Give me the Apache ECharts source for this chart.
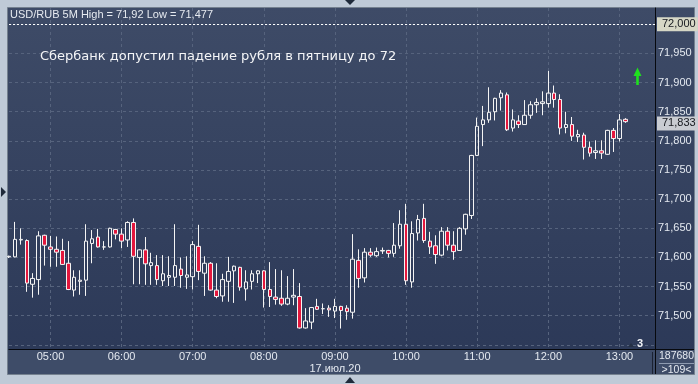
<!DOCTYPE html>
<html>
<head>
<meta charset="utf-8">
<script src="https://cdn.jsdelivr.net/npm/echarts@6/dist/echarts.min.js"></script>
<style>
html,body{margin:0;padding:0;background:#bfcad7;}
#c{width:698px;height:384px;}
</style>
</head>
<body>
<div id="c"></div>
<script>
// ---- data (USD/RUB 5M, 17.07.2020) ----
const startTime = '04:25';
const endSlot = '13:30';
const hourLabels = ['05:00','06:00','07:00','08:00','09:00','10:00','11:00','12:00','13:00'];
const dateLabelAt = '09:00';
const dateLabel = '17.июл.20';
const yTickLabels = ['71,500','71,550','71,600','71,650','71,700','71,750','71,800','71,850','71,900','71,950','72,000'];
const headerText = 'USD/RUB 5M High = 71,92 Low = 71,477';
const titleText = 'Сбербанк допустил падение рубля в пятницу до 72';
const highLevel = 72.000;
const lastPrice = 71.833;
const volumeText = '187680';
const countText = '>109<';
const markerText = '3';

const open = [71.601,71.601,71.630,71.629,71.554,71.562,71.638,71.618,71.614,71.612,
71.590,71.544,71.559,71.561,71.624,71.635,71.618,71.618,71.648,71.640,
71.630,71.660,71.600,71.613,71.586,71.586,71.560,71.566,71.566,71.580,
71.566,71.567,71.619,71.573,71.590,71.544,71.534,71.559,71.577,71.583,
71.546,71.559,71.572,71.577,71.545,71.532,71.530,71.520,71.532,71.533,
71.479,71.489,71.516,71.512,71.513,71.508,71.516,71.513,71.506,71.595,
71.565,71.609,71.603,71.611,71.612,71.607,71.620,71.657,71.558,71.642,
71.667,71.628,71.620,71.604,71.645,71.621,71.612,71.649,71.672,71.775,
71.828,71.836,71.850,71.874,71.879,71.822,71.834,71.828,71.844,71.862,
71.864,71.864,71.882,71.871,71.823,71.828,71.807,71.810,71.789,71.780,
71.783,71.777,71.818,71.804,71.837];
const close = [71.602,71.631,71.631,71.556,71.564,71.637,71.621,71.614,71.609,71.588,
71.545,71.566,71.561,71.628,71.632,71.618,71.618,71.650,71.640,71.628,
71.660,71.602,71.613,71.589,71.591,71.562,71.572,71.569,71.586,71.569,
71.570,71.622,71.576,71.590,71.544,71.533,71.562,71.576,71.585,71.549,
71.558,71.572,71.577,71.545,71.533,71.528,71.520,71.530,71.535,71.479,
71.491,71.514,71.511,71.512,71.510,71.516,71.509,71.507,71.597,71.564,
71.609,71.604,71.610,71.612,71.607,71.621,71.657,71.560,71.641,71.665,
71.629,71.618,71.605,71.645,71.621,71.610,71.650,71.674,71.775,71.825,
71.836,71.849,71.873,71.882,71.819,71.836,71.828,71.844,71.862,71.866,
71.867,71.882,71.871,71.822,71.828,71.808,71.811,71.789,71.779,71.783,
71.779,71.818,71.804,71.836,71.833];
const low = [71.599,71.600,71.622,71.541,71.531,71.536,71.586,71.584,71.584,71.587,
71.544,71.533,71.536,71.534,71.590,71.617,71.613,71.617,71.631,71.616,
71.618,71.554,71.554,71.553,71.553,71.553,71.551,71.551,71.551,71.548,
71.546,71.545,71.561,71.534,71.543,71.530,71.524,71.524,71.522,71.543,
71.526,71.545,71.556,71.514,71.515,71.519,71.517,71.518,71.518,71.478,
71.478,71.477,71.510,71.503,71.498,71.496,71.478,71.493,71.495,71.548,
71.557,71.601,71.601,71.606,71.600,71.601,71.615,71.553,71.548,71.629,
71.625,71.606,71.589,71.602,71.612,71.596,71.611,71.639,71.666,71.774,
71.791,71.831,71.835,71.852,71.817,71.816,71.822,71.828,71.838,71.848,
71.844,71.857,71.857,71.811,71.813,71.800,71.798,71.768,71.773,71.769,
71.769,71.776,71.781,71.799,71.831];
const high = [71.603,71.661,71.650,71.631,71.573,71.645,71.639,71.637,71.636,71.632,
71.628,71.578,71.578,71.657,71.647,71.649,71.628,71.651,71.649,71.650,
71.662,71.667,71.614,71.635,71.608,71.604,71.604,71.602,71.657,71.600,
71.602,71.628,71.656,71.602,71.592,71.590,71.572,71.601,71.586,71.584,
71.578,71.578,71.578,71.578,71.592,71.580,71.578,71.568,71.580,71.556,
71.513,71.515,71.529,71.521,71.518,71.529,71.517,71.518,71.640,71.614,
71.616,71.616,71.617,71.617,71.613,71.659,71.681,71.692,71.662,71.673,
71.692,71.644,71.638,71.652,71.652,71.645,71.652,71.675,71.776,71.840,
71.860,71.892,71.874,71.887,71.883,71.854,71.844,71.870,71.868,71.873,
71.885,71.920,71.895,71.880,71.850,71.841,71.819,71.814,71.799,71.801,
71.801,71.819,71.822,71.846,71.839];

// ---- build categories (5-minute slots) ----
function toMin(s){const p=s.split(':');return +p[0]*60 + +p[1];}
function fmt(m){const h=Math.floor(m/60), mm=m%60;return (h<10?'0':'')+h+':'+(mm<10?'0':'')+mm;}
const times = [];
for (let m = toMin(startTime); m <= toMin(endSlot); m += 5) times.push(fmt(m));
const candles = open.map((o,i)=>[o, close[i], low[i], high[i]]);
const isHour = (idx, val) => hourLabels.indexOf(val) >= 0;
const commaFmt = v => v.toFixed(3).replace('.', ',');
const yLabelFmt = v => { const s = commaFmt(v); return yTickLabels.indexOf(s) >= 0 ? s : ''; };

const NARROW = '"Liberation Sans Narrow","Arial Narrow","Liberation Sans",Arial,sans-serif';
const chart = echarts.init(document.getElementById('c'), null, {renderer:'canvas'});
chart.setOption({
  animation: false,
  backgroundColor: '#bfcad7',
  grid: {left: 9, right: 43, top: 8, bottom: 35, show: false},
  xAxis: {
    type: 'category', data: times, boundaryGap: false,
    axisLine: {show: true, lineStyle: {color: '#07090e', width: 1}},
    axisTick: {show: false},
    axisLabel: {
      interval: isHour, color: '#e4e9f0', fontSize: 11, fontFamily: NARROW,
      margin: 2, lineHeight: 12,
      formatter: v => v === dateLabelAt ? v + '\n' + dateLabel : v
    },
    splitLine: {show: true, interval: isHour, lineStyle: {color: '#56637d', type: [3,3], width: 1}}
  },
  yAxis: {
    type: 'value', position: 'right', scale: true,
    min: 71.4429, max: 72.028, minInterval: 0.05, maxInterval: 0.05,
    axisLine: {show: true, lineStyle: {color: '#07090e', width: 1}},
    axisTick: {show: false},
    axisLabel: {
      showMinLabel: false, showMaxLabel: false, formatter: yLabelFmt,
      color: '#e4e9f0', fontSize: 11, fontFamily: NARROW, margin: 3
    },
    splitLine: {show: true, showMinLine: false, showMaxLine: false,
      lineStyle: {color: '#56637d', type: [3,3], width: 1}}
  },
  series: [{
    type: 'candlestick', data: candles, barWidth: 4, clip: true,
    itemStyle: {color: 'rgba(0,0,0,0)', color0: '#e3173d', borderColor: '#f4f4f4', borderColor0: '#f4f4f4', borderWidth: 1},
    markLine: {
      silent: true, symbol: ['none','none'], animation: false,
      data: [
        {yAxis: highLevel, lineStyle: {color: '#ffffff', type: [2,2], width: 1},
         label: {show: true, position: 'end', distance: 2, formatter: () => commaFmt(highLevel),
           backgroundColor: '#d6d7c6', color: '#15181e', padding: [2,2,1,5], fontSize: 11, fontFamily: NARROW}},
        {yAxis: lastPrice, lineStyle: {color: 'rgba(0,0,0,0)', type: 'solid', width: 1},
         label: {show: true, position: 'end', distance: 2, formatter: () => commaFmt(lastPrice),
           backgroundColor: '#c9ccd2', color: '#15181e', padding: [2,2,1,5], fontSize: 11, fontFamily: NARROW}}
      ]
    }
  }],
  graphic: [
    {type:'rect', z:-10, silent:true, shape:{x:7.5,y:7.5,width:687,height:367},
     style:{fill: new echarts.graphic.LinearGradient(0,0,0,1,[{offset:0,color:'#3e4b67'},{offset:1,color:'#2b3857'}]), stroke:'#75818f', lineWidth:1}},
    {type:'rect', z:-9, silent:true, shape:{x:8,y:350,width:686,height:24}, style:{fill:'#3e4c68'}},
    {type:'line', z:50, silent:true, shape:{x1:655,y1:349.5,x2:694,y2:349.5}, style:{stroke:'#07090e', lineWidth:1}},
    {type:'line', z:50, silent:true, shape:{x1:655.5,y1:349,x2:655.5,y2:374}, style:{stroke:'#07090e', lineWidth:1}},
    {type:'line', z:50, silent:true, shape:{x1:652.5,y1:352,x2:652.5,y2:374}, style:{stroke:'#1b2232', lineWidth:1}},
    {type:'line', z:50, silent:true, shape:{x1:659,y1:363.5,x2:694,y2:363.5}, style:{stroke:'#8e9bb0', lineWidth:1}},
    {type:'text', z:60, silent:true, x:10, y:15, style:{text: headerText, fill:'#e6eaf0', font:'11px ' + NARROW, textVerticalAlign:'middle'}},
    {type:'text', z:60, silent:true, x:40, y:57, style:{text: titleText, fill:'#f4f5f7', font:'13px "DejaVu Sans", sans-serif', textVerticalAlign:'middle'}},
    {type:'polygon', z:60, silent:true, shape:{points:[[633.5,76],[637.5,67.5],[641.5,76],[638.8,76],[638.8,85],[636.2,85],[636.2,76]]}, style:{fill:'#1fe01f'}},
    {type:'polygon', z:60, silent:true, shape:{points:[[628,347],[631,343],[634,347]]}, style:{fill:'#253045'}},
    {type:'text', z:60, silent:true, x:640, y:344, style:{text: markerText, fill:'#f0f2f6', font:'bold 11px ' + NARROW, textAlign:'center', textVerticalAlign:'middle'}},
    {type:'text', z:60, silent:true, x:676.5, y:356.5, style:{text: volumeText, fill:'#e4e9f0', font:'10.5px ' + NARROW, textAlign:'center', textVerticalAlign:'middle'}},
    {type:'text', z:60, silent:true, x:676.5, y:370, style:{text: countText, fill:'#e4e9f0', font:'10.5px ' + NARROW, textAlign:'center', textVerticalAlign:'middle'}},
    {type:'polygon', z:60, silent:true, shape:{points:[[345,0],[355,0],[350,5]]}, style:{fill:'#1f2a3a'}},
    {type:'polygon', z:60, silent:true, shape:{points:[[345,383],[355,383],[350,377]]}, style:{fill:'#1f2a3a'}},
    {type:'polygon', z:60, silent:true, shape:{points:[[1,187],[1,197],[6,192]]}, style:{fill:'#1f2a3a'}}
  ]
});
</script>
</body>
</html>
